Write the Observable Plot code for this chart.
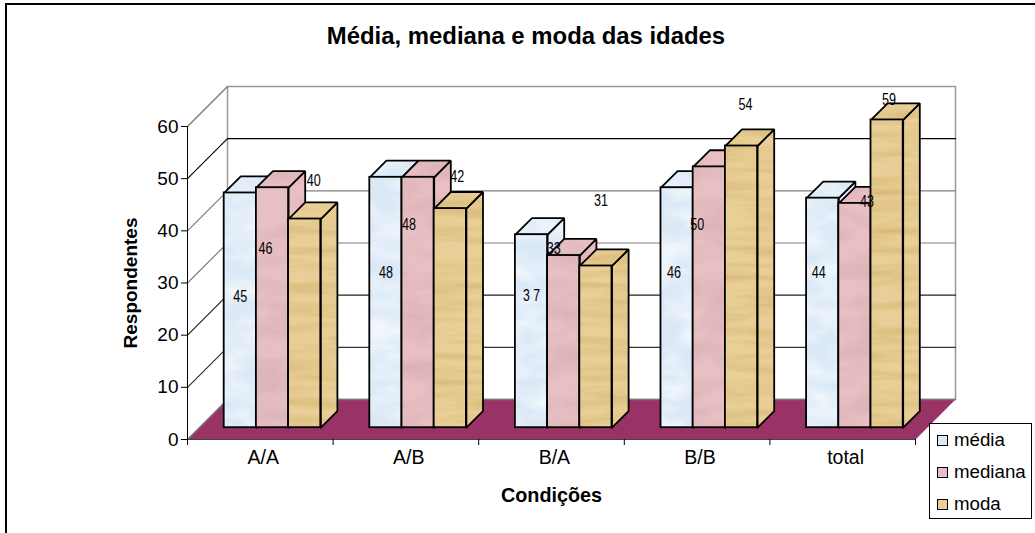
<!DOCTYPE html>
<html><head><meta charset="utf-8">
<script src="https://cdn.jsdelivr.net/npm/d3@7"></script>
<script src="https://cdn.jsdelivr.net/npm/@observablehq/plot@0.6"></script>
<style>
html,body{margin:0;padding:0;background:#fff;overflow:hidden}
#page{position:relative;width:1035px;height:533px;font-family:"Liberation Sans",Arial,sans-serif;color:#000}
#page svg{position:absolute;left:0;top:0}
#border{position:absolute;left:5px;top:3px;width:1040px;height:540px;border:2px solid #000;box-sizing:border-box;pointer-events:none}
#title{position:absolute;left:0;width:1052px;top:23px;text-align:center;font-weight:bold;font-size:23.9px;line-height:26px}
#legend{position:absolute;left:929px;top:423px;width:103px;height:96px;box-sizing:border-box;border:1px solid #000;background:#fff;font-size:18.7px}
#legend div{position:absolute;left:7px;display:flex;align-items:center;height:20px;white-space:nowrap}
#legend i{display:inline-block;width:9px;height:9px;border:1px solid #000;margin-right:6px}
</style></head><body>
<div id="page"><div id="chart"></div><div id="border"></div>
<div id="title">Média, mediana e moda das idades</div><div id="legend"></div></div>
<script>
const categories = ["A/A", "A/B", "B/A", "B/B", "total"];
const seriesNames = ["média", "mediana", "moda"];
const media   = [45, 48, 37, 46, 44];
const mediana = [46, 48, 33, 50, 43];
const moda    = [40, 42, 31, 54, 59];
const barLabels = [
  ["45", "46", "40"], ["48", "48", "42"], ["3 7", "33", "31"], ["46", "50", "54"], ["44", "43", "59"]
];
const yTicks = [0, 10, 20, 30, 40, 50, 60];

// ---- layout and style ----
const W = 1035, H = 533, mL = 187, mR = 120, mT = 126, mB = 94;
const unitX = (W - mL - mR) / categories.length, unitY = (H - mT - mB) / 60;
const depthPx = 40;
const dxU = depthPx / unitX, dyU = depthPx / unitY;       // full depth in data units
const zFront = 0.295, zBack = 0.71;                       // bar extent along the depth axis
const barStart = (36.7 - zFront * depthPx) / unitX, barW = 32.2 / unitX;
const swatch = ["#dbe9f7", "#e8bfc3", "#e9cf97"];
const gridStroke = ["#808080", "#333", "#222", "#808080", "#808080", "#000", "#8a8a8a"];
const labelNudge = [
  [[0,104],[-7,61],[9,-38]], [[0,95],[-9,47],[7,-32]], [[0,61],[-10,-7],[5,-65]],
  [[-3,85],[-12,58],[4,-41]], [[-4,74],[12,-2],[2,-20]]
];
const P = (x, y, z) => ({x: x + z * dxU, y: y + z * dyU});
const poly = (...pts) => [...pts, pts[0]];
const face = (pts, o) => Plot.line(poly(...pts), {x: "x", y: "y", curve: "linear", strokeLinejoin: "miter", ...o});

const marks = [];
// left wall, back wall, floor
marks.push(face([P(0,0,0), P(0,60,0), P(0,60,1), P(0,0,1)], {fill: "#fff", stroke: "none"}));
marks.push(face([P(0,0,1), P(0,60,1), P(5,60,1), P(5,0,1)], {fill: "#fff", stroke: "#999", strokeWidth: 1.5}));
yTicks.slice(1, -1).forEach((t, k) => {
  marks.push(Plot.line([P(0,t,0), P(0,t,1), P(5,t,1)], {x: "x", y: "y", stroke: gridStroke[k + 1], strokeWidth: 1.2}));
});
marks.push(Plot.line([P(0,60,0), P(0,60,1)], {x: "x", y: "y", stroke: "#808080", strokeWidth: 1.5}));
marks.push(face([P(0,0,0), P(5,0,0), P(5,0,1), P(0,0,1)], {fill: "#993366", stroke: "none"}));
marks.push(Plot.line([P(0,0,0), P(0,0,1), P(5,0,1)], {x: "x", y: "y", stroke: "#777", strokeWidth: 1.5}));
marks.push(Plot.line([P(0,0,0), P(5,0,0)], {x: "x", y: "y", stroke: "#444", strokeWidth: 1.2}));

// bars, painted left to right
const seriesValues = [media, mediana, moda];
const rows = [];
categories.forEach((c, i) => seriesValues.forEach((vals, s) => {
  const v = vals[i], x0 = i + barStart + s * barW, x1 = x0 + barW;
  const tex = `url(#tex${s})`, st = {stroke: "#000", strokeWidth: 1.8};
  marks.push(face([P(x1,0,zFront), P(x1,v,zFront), P(x1,v,zBack), P(x1,0,zBack)], {fill: tex, ...st}));
  marks.push(face([P(x0,v,zFront), P(x1,v,zFront), P(x1,v,zBack), P(x0,v,zBack)], {fill: tex, ...st}));
  const a = P(x0,0,zFront), b = P(x1,v,zFront);
  marks.push(Plot.rect([{x1: a.x, x2: b.x, y1: a.y, y2: b.y}], {x1: "x1", x2: "x2", y1: "y1", y2: "y2", fill: tex, ...st}));
  rows.push({i, s, v, x: (a.x + b.x) / 2, y: b.y});
}));
// data labels
rows.forEach(r => {
  const [dx, dy] = labelNudge[r.i][r.s];
  marks.push(Plot.text([r], {x: "x", y: "y", text: () => barLabels[r.i][r.s], dx, dy, fontSize: 17,
    className: "bar-label", fill: "#000", lineAnchor: "middle"}));
});
// axes
marks.push(Plot.ruleX([0], {y1: 0, y2: 60, stroke: "#000", strokeWidth: 1}));
marks.push(Plot.axisY({ticks: yTicks, tickSize: 6, tickPadding: 3, label: null, fontSize: 19, stroke: "#000", strokeOpacity: 1, fill: "#000"}));
marks.push(Plot.axisX({ticks: d3.range(0, 6), tickSize: 6, tickFormat: () => "", label: null, stroke: "#000", strokeOpacity: 1}));
marks.push(Plot.axisX({ticks: categories.map((_, i) => i + 0.52), tickSize: 0, tickPadding: 11, label: null, fontSize: 19.5, fill: "#000",
  tickFormat: x => categories[Math.floor(x)]}));
marks.push(Plot.text(["Respondentes"], {frameAnchor: "left", textAnchor: "middle", dx: -57, rotate: -90, fontWeight: "bold", fontSize: 19, fill: "#000"}));
marks.push(Plot.text(["Condições"], {frameAnchor: "bottom", dy: 62, fontWeight: "bold", fontSize: 19.8, fill: "#000"}));

const chart = Plot.plot({
  width: W, height: H, marginLeft: mL, marginRight: mR, marginTop: mT, marginBottom: mB,
  style: {background: "transparent", fontFamily: "'Liberation Sans',Arial,sans-serif", overflow: "visible"},
  x: {domain: [0, 5]}, y: {domain: [0, 60]},
  marks
});
// narrow the data labels to the reference's condensed look
chart.querySelectorAll(".bar-label text").forEach(t => {
  t.setAttribute("textLength", t.textContent.includes(" ") ? 17 : 14);
  t.setAttribute("lengthAdjust", "spacingAndGlyphs");
});
// paper textures used as fills
const texDefs = [
  {base: swatch[0], freq: "0.025 0.05", rgb: [1, 1, 1], a: 1.4, b: -0.5},
  {base: swatch[1], freq: "0.02 0.05", rgb: [0.82, 0.66, 0.68], a: 1.2, b: -0.45},
  {base: swatch[2], freq: "0.012 0.11", rgb: [0.8, 0.66, 0.38], a: 1.1, b: -0.42}
];
const defs = document.createElementNS("http://www.w3.org/2000/svg", "defs");
defs.innerHTML = texDefs.map((t, i) => `
 <filter id="noise${i}" x="0" y="0" width="100%" height="100%" color-interpolation-filters="sRGB">
  <feTurbulence type="fractalNoise" baseFrequency="${t.freq}" numOctaves="3" seed="${i + 3}"/>
  <feColorMatrix type="matrix" values="0 0 0 0 ${t.rgb[0]}  0 0 0 0 ${t.rgb[1]}  0 0 0 0 ${t.rgb[2]}  ${t.a} 0 0 0 ${t.b}"/>
 </filter>
 <pattern id="tex${i}" patternUnits="userSpaceOnUse" width="${W}" height="${H}">
  <rect width="${W}" height="${H}" fill="${t.base}"/>
  <rect width="${W}" height="${H}" filter="url(#noise${i})"/>
 </pattern>`).join("");
chart.insertBefore(defs, chart.firstChild);
document.getElementById("chart").appendChild(chart);
// legend
const legend = document.getElementById("legend");
seriesNames.forEach((n, i) => {
  const row = document.createElement("div");
  row.style.top = (6 + i * 32) + "px";
  row.innerHTML = `<i style="background:${swatch[i]}"></i>${n}`;
  legend.appendChild(row);
});
</script></body></html>
